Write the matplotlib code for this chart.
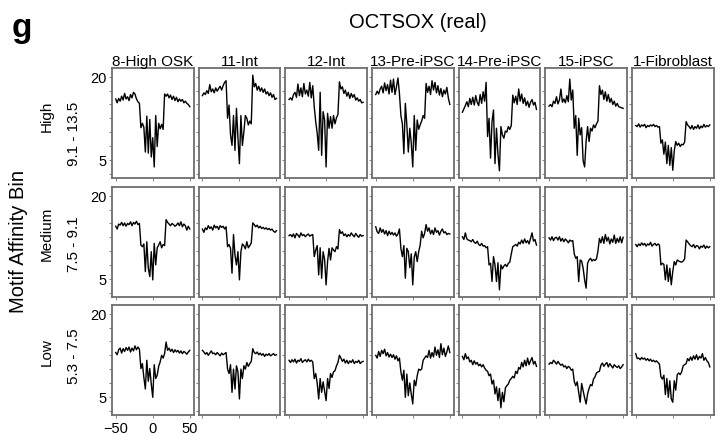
import numpy as np
import matplotlib
matplotlib.use("Agg")
import matplotlib.pyplot as plt

plt.rcParams['font.family'] = ['Liberation Sans', 'DejaVu Sans']

# ---------------- data ----------------
positions = list(range(-50, 51, 2))  # bp from motif centre

panel_titles = ["8-High OSK", "11-Int", "12-Int", "13-Pre-iPSC", "14-Pre-iPSC", "15-iPSC", "1-Fibroblast"]
row_names = ["High", "Medium", "Low"]
row_ranges = ["9.1 - 13.5", "7.5 - 9.1", "5.3 - 7.5"]
main_title = "OCTSOX (real)"
y_label = "Motif Affinity Bin"
x_tick_values = [-50, 0, 50]
y_label_values = [5, 20]

high_bin = [
    [16.0, 15.3, 16.1, 15.6, 16.5, 15.8, 17.0, 16.0, 16.4, 15.7, 16.8, 16.2, 17.2, 16.9, 16.0, 15.5, 15.2,
     10.8, 11.6, 10.9, 6.4, 12.9, 6.2, 12.3, 5.5, 9.0, 3.7, 13.0, 7.4, 11.6, 10.6, 11.4, 10.5, 16.9,
     16.5, 16.9, 16.2, 16.7, 15.9, 16.5, 15.7, 16.3, 15.5, 16.0, 15.6, 15.9, 15.3, 15.6, 15.2, 15.0, 14.6],
    [16.6, 17.1, 16.8, 17.5, 17.0, 18.6, 17.3, 17.8, 17.1, 18.0, 17.4, 17.9, 18.3, 17.6, 18.4, 19.0, 19.3,
     12.5, 14.9, 9.5, 7.6, 13.0, 6.7, 14.3, 9.0, 4.3, 13.0, 7.6, 10.0, 13.0, 12.5, 11.3, 12.0, 11.5,
     20.3, 18.2, 18.8, 17.6, 18.3, 17.4, 18.0, 17.2, 17.8, 16.9, 17.3, 16.6, 17.1, 16.3, 16.8, 15.9, 16.1],
    [15.9, 16.2, 15.8, 16.8, 17.2, 16.3, 18.7, 16.6, 18.0, 16.4, 18.8, 16.9, 17.6, 16.5, 19.0, 16.2, 18.4,
     14.6, 11.9, 9.8, 6.7, 17.2, 5.8, 13.7, 12.2, 3.7, 13.4, 10.7, 12.8, 10.7, 13.0, 11.5, 12.6, 13.2,
     19.1, 17.8, 18.2, 17.0, 17.6, 16.5, 17.2, 16.1, 17.0, 16.3, 16.8, 15.8, 16.2, 15.6, 15.9, 15.3, 15.4],
    [16.8, 17.4, 16.9, 17.8, 18.3, 17.1, 18.9, 17.5, 18.6, 16.9, 19.4, 17.2, 19.6, 16.8, 18.2, 19.8, 17.0,
     13.0, 11.5, 6.1, 15.2, 11.3, 6.4, 10.7, 8.0, 3.7, 13.0, 6.7, 12.2, 10.5, 11.3, 12.0, 13.0, 12.5,
     18.8, 17.2, 18.3, 16.8, 19.3, 17.6, 19.0, 17.1, 18.4, 16.7, 17.9, 16.4, 17.6, 16.9, 18.1, 16.2, 15.0],
    [13.6, 14.2, 14.8, 15.5, 14.6, 16.1, 15.0, 16.3, 14.9, 16.6, 15.4, 14.8, 16.8, 15.2, 17.3, 15.6, 19.0,
     9.2, 12.5, 5.3, 11.9, 14.0, 4.3, 10.7, 6.0, 3.0, 11.0, 9.5, 8.9, 10.2, 10.0, 11.0, 10.5, 11.2,
     16.7, 15.3, 16.5, 15.0, 17.8, 15.6, 16.9, 15.2, 16.2, 14.8, 15.6, 14.5, 15.4, 15.9, 14.9, 15.4, 14.1],
    [14.7, 15.0, 14.6, 15.6, 15.2, 16.4, 15.1, 15.8, 17.8, 15.4, 16.0, 15.3, 16.6, 15.5, 19.6, 15.8, 17.6,
     10.7, 13.0, 5.8, 12.5, 9.5, 10.8, 4.8, 3.7, 8.3, 11.0, 8.3, 10.7, 10.2, 11.3, 10.8, 11.5, 12.0,
     18.4, 16.8, 17.6, 15.9, 17.3, 15.6, 16.8, 15.4, 16.1, 15.0, 15.6, 14.7, 15.2, 14.6, 14.5, 14.4, 14.3],
    [11.2, 11.0, 11.5, 10.9, 11.3, 11.1, 11.4, 10.8, 11.2, 11.0, 11.3, 11.1, 11.4, 11.0, 11.2, 10.9, 11.0,
     8.0, 8.6, 6.0, 8.2, 4.3, 7.6, 4.0, 7.2, 3.1, 6.6, 8.3, 7.6, 8.0, 7.4, 7.8, 7.7, 8.2,
     11.9, 11.3, 11.0, 10.6, 11.2, 10.5, 11.0, 10.7, 11.3, 10.6, 11.1, 10.8, 11.4, 10.9, 11.2, 11.0, 11.3],
]

medium_bin = [
    [14.5, 14.0, 14.9, 14.7, 15.2, 14.6, 15.1, 14.5, 15.0, 14.8, 15.3, 14.6, 15.2, 14.9, 15.4, 14.8, 15.0,
     11.1, 10.8, 11.3, 6.3, 11.7, 6.9, 5.4, 9.9, 4.8, 11.4, 7.5, 10.6, 11.1, 11.7, 10.6, 11.2, 11.0,
     15.7, 15.2, 14.9, 14.6, 15.0, 14.8, 14.5, 14.7, 15.1, 14.6, 15.3, 14.4, 14.9, 14.6, 13.8, 14.5, 14.0],
    [14.0, 13.4, 14.2, 13.9, 14.6, 14.1, 14.4, 13.8, 14.7, 14.2, 14.5, 13.9, 14.6, 14.3, 14.5, 14.0, 14.4,
     10.8, 11.2, 10.5, 6.0, 13.0, 9.3, 7.5, 9.9, 4.8, 9.9, 11.3, 11.0, 10.4, 11.7, 10.6, 11.0, 11.5,
     15.1, 14.8, 14.4, 14.7, 14.2, 14.5, 14.1, 14.3, 14.0, 14.2, 13.9, 14.1, 13.8, 14.0, 13.6, 13.4, 13.7],
    [12.8, 13.0, 12.6, 13.1, 12.4, 13.2, 12.9, 12.5, 13.3, 12.8, 13.0, 12.6, 12.9, 13.1, 12.7, 12.9, 13.0,
     9.0, 10.2, 11.0, 5.7, 10.6, 5.1, 9.9, 8.5, 3.9, 8.1, 10.5, 8.4, 10.6, 10.2, 9.9, 10.8, 10.4,
     13.9, 13.2, 13.5, 12.8, 13.1, 12.6, 13.0, 12.7, 13.3, 12.9, 12.6, 13.2, 12.8, 12.5, 13.0, 12.7, 12.8],
    [14.4, 13.5, 13.2, 14.2, 13.4, 13.9, 13.1, 13.7, 12.8, 13.6, 13.0, 13.4, 12.9, 13.3, 12.7, 13.1, 14.0,
     10.5, 9.0, 11.0, 5.1, 10.5, 9.9, 7.0, 9.5, 3.9, 8.9, 9.9, 8.1, 9.9, 11.1, 13.6, 12.4, 13.2,
     14.8, 13.6, 14.2, 13.1, 13.8, 13.0, 14.2, 13.4, 13.7, 12.9, 13.6, 14.0, 13.3, 13.5, 13.0, 13.2, 13.1],
    [12.6, 12.1, 13.3, 12.2, 12.0, 11.9, 11.7, 12.1, 11.6, 11.4, 11.8, 11.2, 11.0, 11.4, 10.9, 11.0, 10.6,
     10.8, 7.5, 7.8, 4.5, 9.0, 7.5, 4.5, 7.9, 3.0, 7.5, 6.8, 7.3, 7.6, 7.2, 7.8, 8.0, 9.5,
     10.8, 11.0, 11.2, 10.9, 11.6, 11.3, 12.0, 11.4, 12.2, 11.5, 11.9, 11.3, 12.3, 13.3, 11.8, 12.1, 11.1],
    [12.4, 12.0, 12.6, 11.9, 12.4, 12.5, 12.0, 12.6, 11.8, 12.3, 11.7, 12.2, 11.9, 11.5, 12.0, 11.8, 11.9,
     9.5, 8.7, 9.0, 4.5, 8.4, 8.2, 6.9, 4.8, 3.3, 7.8, 8.4, 8.7, 8.2, 8.5, 8.3, 8.6, 10.0,
     12.3, 11.5, 12.6, 11.4, 13.0, 11.8, 12.5, 11.3, 12.2, 11.6, 12.9, 11.4, 12.3, 11.6, 12.6, 11.5, 12.5],
    [11.2, 10.8, 11.3, 11.0, 11.5, 11.1, 11.4, 10.9, 11.3, 11.1, 11.6, 10.9, 11.2, 11.4, 11.0, 11.3, 11.1,
     7.5, 7.8, 7.6, 4.8, 7.5, 4.5, 6.9, 3.9, 6.3, 8.1, 7.5, 8.4, 8.2, 8.1, 8.0, 8.2, 8.6,
     12.0, 11.7, 11.3, 11.0, 10.8, 11.2, 10.6, 11.0, 10.9, 10.4, 10.9, 10.7, 11.1, 10.5, 10.9, 10.6, 10.8],
]

low_bin = [
    [13.0, 12.6, 13.5, 13.8, 12.9, 13.7, 13.2, 13.9, 13.4, 14.0, 13.1, 13.8, 13.3, 14.2, 13.5, 14.0, 13.6,
     10.1, 11.0, 8.5, 6.4, 11.6, 7.8, 10.1, 7.3, 4.9, 10.8, 8.3, 8.9, 10.5, 11.3, 12.5, 12.0, 12.8,
     14.9, 13.4, 13.8, 13.2, 13.6, 13.0, 13.5, 13.1, 13.4, 12.9, 13.3, 12.8, 13.2, 13.0, 12.7, 13.1, 13.4],
    [13.4, 13.1, 12.7, 13.0, 12.5, 12.9, 13.3, 12.8, 12.9, 12.6, 13.0, 12.7, 12.4, 12.9, 12.6, 12.8, 13.0,
     10.0, 9.2, 10.8, 5.8, 10.0, 6.4, 10.6, 9.5, 4.6, 10.0, 8.3, 10.6, 10.0, 11.2, 10.5, 11.0, 11.4,
     13.7, 13.0, 12.8, 13.1, 12.6, 12.9, 12.5, 12.8, 12.3, 12.7, 12.5, 12.8, 12.4, 12.6, 12.8, 12.5, 12.6],
    [11.6, 11.2, 11.7, 11.3, 11.8, 11.1, 11.6, 11.4, 11.9, 11.2, 11.5, 11.7, 11.3, 11.8, 11.4, 11.6, 11.3,
     8.3, 9.2, 7.5, 4.6, 8.3, 5.8, 7.7, 6.0, 4.3, 8.3, 6.5, 9.2, 8.5, 9.5, 9.7, 10.6, 11.2,
     12.5, 12.0, 11.4, 11.8, 11.1, 11.6, 11.0, 11.5, 11.2, 11.7, 11.0, 11.4, 11.2, 11.6, 11.0, 11.3, 11.4],
    [12.5, 12.0, 13.2, 12.3, 13.4, 12.8, 13.6, 12.4, 13.0, 12.2, 12.7, 12.1, 12.6, 11.8, 12.4, 11.5, 12.0,
     9.5, 8.0, 9.8, 4.9, 9.1, 5.2, 7.5, 5.5, 3.7, 8.0, 7.0, 8.8, 10.0, 9.8, 10.0, 11.6, 12.0,
     12.4, 12.1, 13.4, 12.0, 13.0, 12.2, 14.0, 12.5, 13.5, 12.1, 14.6, 12.6, 13.8, 12.3, 13.1, 14.2, 13.0],
    [12.3, 11.7, 12.8, 11.9, 12.2, 11.3, 11.6, 10.8, 11.5, 10.9, 11.2, 10.6, 10.9, 10.4, 10.8, 10.2, 9.8,
     9.6, 8.8, 9.1, 7.3, 8.0, 5.5, 6.8, 4.3, 6.5, 3.0, 5.8, 4.1, 6.6, 7.0, 7.3, 8.0, 8.3,
     8.7, 8.4, 9.6, 9.2, 10.3, 10.0, 11.2, 10.4, 11.6, 10.6, 12.0, 10.8, 11.5, 12.1, 10.9, 11.4, 10.5],
    [10.9, 11.2, 11.0, 11.6, 11.3, 10.9, 11.4, 11.0, 10.7, 10.9, 10.4, 10.6, 10.1, 10.5, 10.3, 9.8, 10.0,
     7.8, 7.0, 7.7, 5.8, 4.0, 7.4, 6.1, 4.8, 3.7, 5.5, 6.5, 7.2, 7.0, 8.2, 8.6, 9.3, 9.5,
     9.6, 10.7, 11.1, 10.5, 10.9, 11.2, 10.4, 11.0, 10.6, 10.2, 10.8, 10.5, 10.3, 10.6, 10.1, 10.4, 10.8],
    [12.8, 11.9, 12.0, 11.7, 12.1, 11.8, 12.0, 11.6, 11.9, 11.5, 11.8, 11.4, 11.6, 11.3, 11.5, 11.2, 10.9,
     8.6, 8.2, 8.9, 5.4, 8.3, 4.9, 7.9, 4.6, 4.0, 7.9, 6.2, 9.0, 9.3, 9.0, 9.5, 10.6, 10.8,
     11.0, 11.9, 11.5, 12.2, 11.6, 12.4, 11.8, 12.6, 11.7, 12.3, 12.0, 12.8, 11.6, 12.1, 11.5, 11.2, 10.4],
]

all_rows = [high_bin, medium_bin, low_bin]

# ---------------- layout ----------------
W, H = 718, 435
fig = plt.figure(figsize=(W / 100, H / 100), dpi=100)

col_left0, col_pitch, col_w = 112, 86.67, 81.5
row_tops = [69, 188, 306]
row_h = 110
frame_col = "#6e6e6e"
ytick_vals = np.arange(2.5, 20.1, 2.5)


def fx(px):
    return px / W


def fy(py):
    return 1 - py / H


for r, row in enumerate(all_rows):
    for c, vals in enumerate(row):
        left = col_left0 + c * col_pitch
        top = row_tops[r]
        ax = fig.add_axes([fx(left), fy(top + row_h), col_w / W, row_h / H])
        n = min(len(positions), len(vals))
        ax.plot(positions[:n], vals[:n], color="black", lw=1.0)
        ax.set_xlim(-55, 55)
        ax.set_ylim(1.7, 21.6)
        for s in ax.spines.values():
            s.set_color(frame_col)
            s.set_linewidth(1.3)
        ax.set_xticks(x_tick_values)
        ax.set_yticks(ytick_vals)
        ax.tick_params(direction="out", length=2.5, width=0.6, color=frame_col,
                       labelsize=10.5, pad=1.5)
        if c == 0:
            ax.set_yticklabels([str(int(v)) if v in y_label_values else "" for v in ytick_vals])
        else:
            ax.set_yticklabels([])
        if r == 2 and c == 0:
            ax.set_xticklabels(["\u221250", "0", "50"])
        else:
            ax.set_xticklabels([])
        if r == 0:
            ax.set_title(panel_titles[c], fontsize=11, pad=2)

# text annotations
fig.text(fx(12), fy(28), "g", fontsize=24, fontweight="bold", ha="left", va="center")
fig.text(fx(418), fy(22), main_title, fontsize=14.5, ha="center", va="center")
fig.text(fx(19), fy(242), y_label, fontsize=14.5, rotation=90, ha="center", va="center")

name_pos = [116, 234, 352]
range_pos = [134, 244, 356]
for r in range(3):
    fig.text(fx(47), fy(name_pos[r]), row_names[r], fontsize=11, rotation=90, ha="center", va="center")
    fig.text(fx(74), fy(range_pos[r]), row_ranges[r], fontsize=11, rotation=90, ha="center", va="center")

fig.savefig("out.png", dpi=100)
